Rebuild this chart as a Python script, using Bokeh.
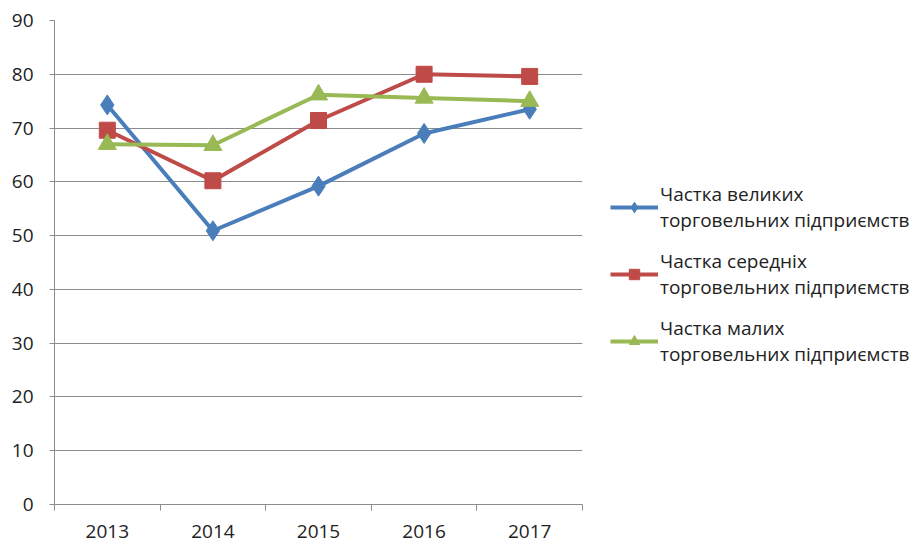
from bokeh.plotting import figure
from bokeh.models import Range1d, FixedTicker, Legend, LegendItem
from bokeh.embed import file_html
from bokeh.resources import INLINE

years = ["2013", "2014", "2015", "2016", "2017"]
large = [74.3, 50.9, 59.2, 69.0, 73.5]
medium = [69.6, 60.2, 71.4, 80.0, 79.6]
small = [67.0, 66.8, 76.2, 75.6, 75.0]
names = ["Частка великих\nторговельних підприємств",
         "Частка середніх\nторговельних підприємств",
         "Частка малих\nторговельних підприємств"]
y_ticks = list(range(0, 100, 10))

FONT = "Open Sans"
xs = [i + 0.5 for i in range(len(years))]

p = figure(frame_width=528, frame_height=484, output_backend="svg", toolbar_location=None,
           x_range=Range1d(0, len(years)), y_range=Range1d(0, 90),
           min_border_left=54, min_border_top=20, min_border_bottom=38, min_border_right=0)
p.outline_line_color = None
p.background_fill_color = "white"
p.border_fill_color = "white"

p.xgrid.grid_line_color = None
p.ygrid.grid_line_color = "#8c8c8c"
p.ygrid.grid_line_width = 1
p.ygrid.ticker = FixedTicker(ticks=y_ticks)

p.yaxis.ticker = FixedTicker(ticks=y_ticks)
p.yaxis.axis_line_color = "#8c8c8c"
p.yaxis.major_tick_line_color = "#8c8c8c"
p.yaxis.major_tick_out = 5
p.yaxis.major_tick_in = 0
p.yaxis.minor_tick_line_color = None
p.yaxis.major_label_standoff = 16
p.yaxis.major_label_text_font = FONT
p.yaxis.major_label_text_font_size = "19px"
p.yaxis.major_label_text_color = "#222222"

p.xaxis.ticker = FixedTicker(ticks=xs, minor_ticks=list(range(len(years) + 1)))
p.xaxis.major_label_overrides = {x: y for x, y in zip(xs, years)}
p.xaxis.axis_line_color = "#8c8c8c"
p.xaxis.major_tick_line_color = None
p.xaxis.minor_tick_line_color = "#8c8c8c"
p.xaxis.minor_tick_out = 6
p.xaxis.minor_tick_in = 0
p.xaxis.major_label_standoff = 14
p.xaxis.major_label_text_font = FONT
p.xaxis.major_label_text_font_size = "19px"
p.xaxis.major_label_text_color = "#222222"

cols = ["#4a7ebb", "#be4b48", "#98b954"]

l1 = p.line(xs, large, line_color=cols[0], line_width=4)
m1 = p.scatter(xs, large, marker="diamond", size=20, fill_color=cols[0], line_color=cols[0])
l2 = p.line(xs, medium, line_color=cols[1], line_width=4)
m2 = p.scatter(xs, medium, marker="square", size=16, fill_color=cols[1], line_color=cols[1])
l3 = p.line(xs, small, line_color=cols[2], line_width=4)
m3 = p.scatter(xs, small, marker="triangle", size=18, fill_color=cols[2], line_color=cols[2])

items = [LegendItem(label=names[0], renderers=[l1, m1]),
         LegendItem(label=names[1], renderers=[l2, m2]),
         LegendItem(label=names[2], renderers=[l3, m3])]
legend = Legend(items=items, location=(28, 136), border_line_color=None,
                background_fill_alpha=0,
                label_text_font=FONT, label_text_font_size="19px", label_text_color="#222222",
                glyph_width=48, glyph_height=26, spacing=13, padding=0, margin=0,
                label_standoff=2, label_height=54)
p.add_layout(legend, "right")

open("out.html", "w").write(file_html(p, INLINE))
